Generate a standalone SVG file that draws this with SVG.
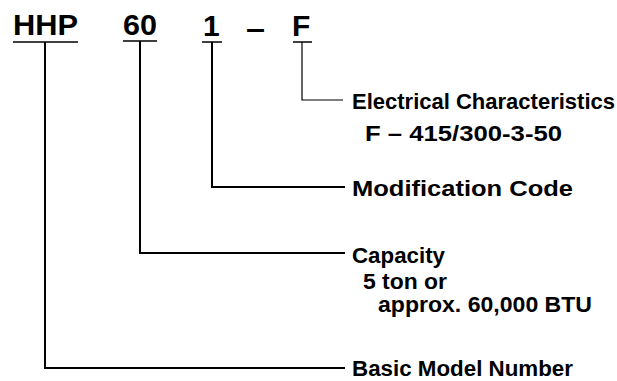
<svg xmlns="http://www.w3.org/2000/svg" width="617" height="381" viewBox="0 0 617 381">
<style>
.code{font-family:"Liberation Sans",Arial,sans-serif;font-weight:700;font-size:30px;fill:#000}
.lbl{font-family:"Liberation Sans",Arial,sans-serif;font-weight:700;font-size:22px;fill:#000}
.ul{stroke:#000;stroke-width:1.5;fill:none}
.c{stroke:#000;stroke-width:2;fill:none}
.thin{stroke:#000;stroke-width:1.2;fill:none}
</style>
<rect width="617" height="381" fill="#fff"/>
<g id="connectors">
<path class="thin" d="M302,42 V100 H343"/>
<path class="c" d="M212,42 V187 H345"/>
<path class="c" d="M140,41 V253 H345"/>
<path class="c" d="M45,42 V368 H345"/>
</g>
<g id="code-hhp">
<text class="code" x="13" y="35" textLength="65" lengthAdjust="spacingAndGlyphs">HHP</text>
<line class="ul" x1="13" y1="42" x2="78" y2="42"/>
</g>
<g id="code-60">
<text class="code" x="123" y="35" textLength="34" lengthAdjust="spacingAndGlyphs">60</text>
<line class="ul" x1="123" y1="41" x2="157" y2="41"/>
</g>
<g id="code-1">
<text class="code" x="203" y="36">1</text>
<line class="ul" x1="202" y1="42" x2="222" y2="42"/>
</g>
<g id="dash">
<text class="code" x="246" y="39" textLength="19" lengthAdjust="spacingAndGlyphs">–</text>
</g>
<g id="code-f">
<text class="code" x="292" y="36">F</text>
<line class="ul" x1="293" y1="42" x2="312" y2="42"/>
</g>
<g id="electrical">
<text class="lbl" x="352" y="109" textLength="263" lengthAdjust="spacingAndGlyphs">Electrical Characteristics</text>
<text class="lbl" x="365" y="141" textLength="197" lengthAdjust="spacingAndGlyphs">F  –  415/300-3-50</text>
</g>
<g id="modification">
<text class="lbl" x="352" y="196" textLength="221" lengthAdjust="spacingAndGlyphs">Modification Code</text>
</g>
<g id="capacity">
<text class="lbl" x="352" y="263" textLength="93" lengthAdjust="spacingAndGlyphs">Capacity</text>
<text class="lbl" x="363" y="289" textLength="84" lengthAdjust="spacingAndGlyphs">5 ton or</text>
<text class="lbl" x="378" y="312" textLength="214" lengthAdjust="spacingAndGlyphs">approx. 60,000 BTU</text>
</g>
<g id="basic">
<text class="lbl" x="352" y="376" font-size="20" textLength="221" lengthAdjust="spacingAndGlyphs">Basic Model Number</text>
</g>
</svg>
